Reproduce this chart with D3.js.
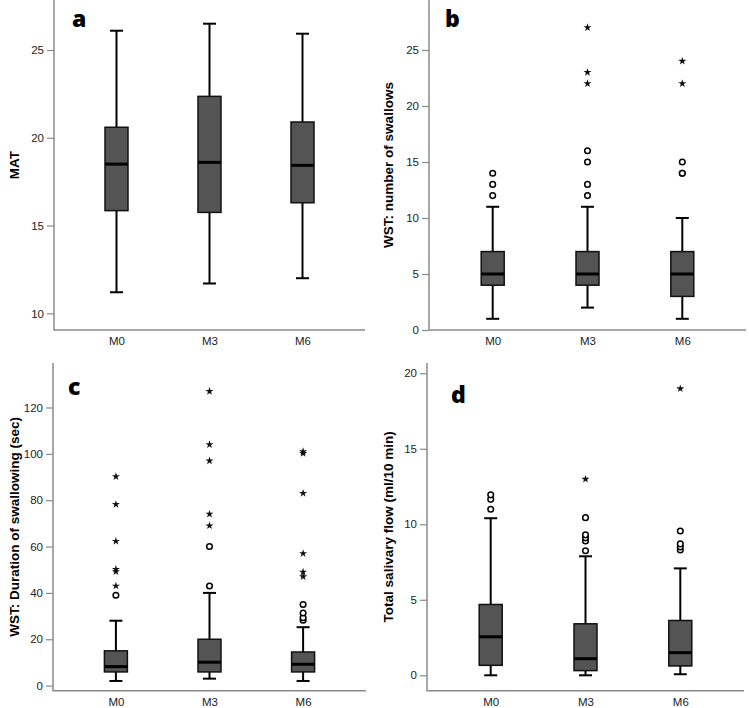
<!DOCTYPE html>
<html><head><meta charset="utf-8">
<script src="https://cdn.jsdelivr.net/npm/d3@7"></script>
<style>body{margin:0;background:#fff}svg{display:block}</style>
</head><body><svg id="chart" width="749" height="708"></svg>
<script>
const categories = ["M0", "M3", "M6"];

// Panel a: MAT
const aLow = [11.2, 11.7, 12.0];
const aQ1 = [15.85, 15.75, 16.3];
const aMedian = [18.5, 18.6, 18.43];
const aQ3 = [20.6, 22.36, 20.9];
const aHigh = [26.1, 26.5, 25.93];
const aCircles = [[], [], []];
const aStars = [[], [], []];
const aTicks = [10, 15, 20, 25];

// Panel b: WST number of swallows
const bLow = [1, 2, 1];
const bQ1 = [4, 4, 3];
const bMedian = [5, 5, 5];
const bQ3 = [7, 7, 7];
const bHigh = [11, 11, 10];
const bCircles = [[12, 13, 14], [12, 13, 15, 16], [14, 14, 15]];
const bStars = [[], [22, 23, 27], [22, 24]];
const bTicks = [0, 5, 10, 15, 20, 25];

// Panel c: WST duration of swallowing (sec)
const cLow = [2, 3, 2];
const cQ1 = [5.9, 5.9, 5.9];
const cMedian = [8.2, 10.1, 9.2];
const cQ3 = [15, 20, 14.5];
const cHigh = [28, 40, 25.2];
const cCircles = [[39], [43, 60], [28.2, 29.3, 31.3, 35]];
const cStars = [[43, 49.2, 50.2, 62.3, 78.2, 90.2], [69, 74, 97, 104, 127], [47, 49, 57, 83, 100.2, 101]];
const cTicks = [0, 20, 40, 60, 80, 100, 120];

// Panel d: total salivary flow (ml/10 min)
const dLow = [0, 0, 0.07];
const dQ1 = [0.66, 0.31, 0.62];
const dMedian = [2.55, 1.1, 1.5];
const dQ3 = [4.69, 3.41, 3.63];
const dHigh = [10.4, 7.88, 7.08];
const dCircles = [[11.0, 11.65, 11.95], [8.25, 8.9, 9.1, 9.3, 10.44], [8.3, 8.5, 8.7, 9.56]];
const dStars = [[], [12.99], [18.98]];
const dTicks = [0, 5, 10, 15, 20];

const panels = [
  {letter: "a", title: "MAT", low: aLow, q1: aQ1, med: aMedian, q3: aQ3, high: aHigh, circles: aCircles, stars: aStars, ticks: aTicks,
   x0: 54, x1: 365, yTop: 0, yBot: 330, domain: [9.05, 27.85], letterX: 72, letterY: 27, titleX: 14},
  {letter: "b", title: "WST: number of swallows", low: bLow, q1: bQ1, med: bMedian, q3: bQ3, high: bHigh, circles: bCircles, stars: bStars, ticks: bTicks,
   x0: 429, x1: 746, yTop: 0, yBot: 330, domain: [0, 29.46], letterX: 445, letterY: 27, titleX: 388},
  {letter: "c", title: "WST: Duration of swallowing (sec)", low: cLow, q1: cQ1, med: cMedian, q3: cQ3, high: cHigh, circles: cCircles, stars: cStars, ticks: cTicks,
   x0: 53, x1: 366, yTop: 363, yBot: 690.7, domain: [-2.2, 139.2], letterX: 68, letterY: 395, titleX: 14},
  {letter: "d", title: "Total salivary flow (ml/10 min)", low: dLow, q1: dQ1, med: dMedian, q3: dQ3, high: dHigh, circles: dCircles, stars: dStars, ticks: dTicks,
   x0: 427, x1: 744, yTop: 363, yBot: 690.7, domain: [-1.02, 20.68], letterX: 451, letterY: 403, titleX: 388}
];

const svg = d3.select("#chart");
const axisColor = "#8a8a8a";
const boxW = 23, capW = 13;
const star = d3.symbol().type(d3.symbolStar).size(20);

panels.forEach(p => {
  const g = svg.append("g");
  const x = d3.scalePoint().domain(categories).range([p.x0, p.x1]).padding(0.672);
  const y = d3.scaleLinear().domain(p.domain).range([p.yBot, p.yTop]);

  // y axis
  const ya = g.append("g").attr("transform", `translate(${p.x0},0)`)
    .call(d3.axisLeft(y).tickValues(p.ticks).tickSize(7).tickPadding(3));
  ya.select(".domain").remove();
  ya.selectAll(".tick line").attr("stroke", axisColor).attr("stroke-width", 1.2);
  ya.selectAll(".tick text").attr("fill", "#222").style("font-family", "Liberation Sans, Arial, sans-serif").style("font-size", "11.5px");

  // x axis
  const xa = g.append("g").attr("transform", `translate(0,${p.yBot})`)
    .call(d3.axisBottom(x).tickSize(0).tickPadding(7));
  xa.select(".domain").remove();
  xa.selectAll(".tick text").attr("fill", "#222").style("font-family", "Liberation Sans, Arial, sans-serif").style("font-size", "11.5px");

  // axis lines
  g.append("path").attr("d", `M${p.x0},${p.yTop}V${p.yBot}H${p.x1}`)
    .attr("fill", "none").attr("stroke", axisColor).attr("stroke-width", 1.5);

  // y title
  g.append("text")
    .attr("transform", `translate(${p.titleX},${(p.yTop + p.yBot) / 2}) rotate(-90)`)
    .attr("text-anchor", "middle").attr("dominant-baseline", "central")
    .style("font-family", "Liberation Sans, Arial, sans-serif").style("font-weight", "bold").style("font-size", "13.5px")
    .text(p.title);

  // panel letter
  g.append("text").attr("x", p.letterX).attr("y", p.letterY)
    .style("font-family", "Open Sans, sans-serif").style("font-weight", "800").style("font-size", "23px")
    .text(p.letter);

  categories.forEach((c, i) => {
    const cx = x(c);
    // whiskers
    g.append("line").attr("x1", cx).attr("x2", cx).attr("y1", y(p.q3[i])).attr("y2", y(p.high[i]))
      .attr("stroke", "#000").attr("stroke-width", 2);
    g.append("line").attr("x1", cx).attr("x2", cx).attr("y1", y(p.q1[i])).attr("y2", y(p.low[i]))
      .attr("stroke", "#000").attr("stroke-width", 2);
    g.append("line").attr("x1", cx - capW / 2).attr("x2", cx + capW / 2).attr("y1", y(p.high[i])).attr("y2", y(p.high[i]))
      .attr("stroke", "#000").attr("stroke-width", 2);
    g.append("line").attr("x1", cx - capW / 2).attr("x2", cx + capW / 2).attr("y1", y(p.low[i])).attr("y2", y(p.low[i]))
      .attr("stroke", "#000").attr("stroke-width", 2);
    // box
    g.append("rect").attr("x", cx - boxW / 2).attr("width", boxW)
      .attr("y", y(p.q3[i])).attr("height", y(p.q1[i]) - y(p.q3[i]))
      .attr("fill", "#545454").attr("stroke", "#111").attr("stroke-width", 1.5);
    // median
    g.append("line").attr("x1", cx - boxW / 2).attr("x2", cx + boxW / 2).attr("y1", y(p.med[i])).attr("y2", y(p.med[i]))
      .attr("stroke", "#000").attr("stroke-width", 3);
    // outliers
    p.circles[i].forEach(v => {
      g.append("circle").attr("cx", cx).attr("cy", y(v)).attr("r", 2.8)
        .attr("fill", "#fff").attr("stroke", "#000").attr("stroke-width", 1.5);
    });
    p.stars[i].forEach(v => {
      g.append("path").attr("d", star).attr("transform", `translate(${cx},${y(v)})`).attr("fill", "#111");
    });
  });
});
</script>
</body></html>
